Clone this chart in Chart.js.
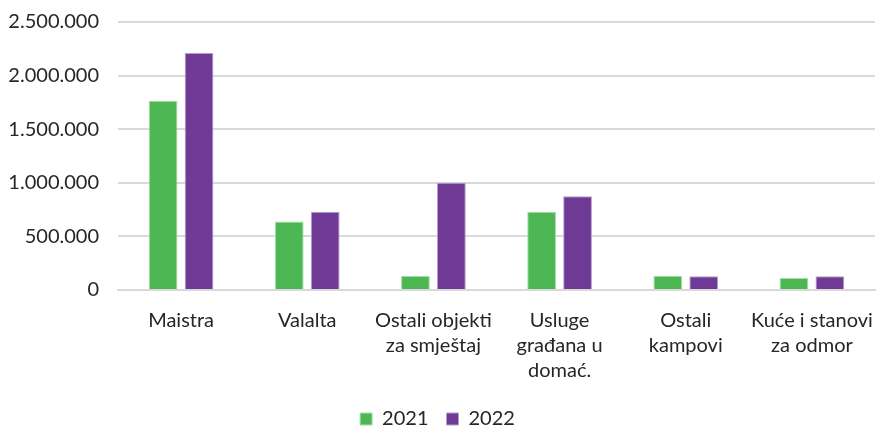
<!DOCTYPE html>
<html>
<head>
<meta charset="utf-8">
<script src="https://cdn.jsdelivr.net/npm/chart.js@4.4.0/dist/chart.umd.min.js"></script>
<style>
  html, body { margin: 0; padding: 0; background: #fff; }
  #wrap { width: 876px; height: 427px; position: relative; }
</style>
</head>
<body>
<div id="wrap"><canvas id="chart"></canvas></div>
<script>
// Kategorije i vrijednosti (očitano sa slike)
const categories = [
    ['Maistra'],
    ['Valalta'],
    ['Ostali objekti', 'za smještaj'],
    ['Usluge', 'građana u', 'domać.'],
    ['Ostali', 'kampovi'],
    ['Kuće i stanovi', 'za odmor']
];
const values2021 = [1765000, 638000, 131000, 731000, 134000, 112000];
const values2022 = [2210000, 731000, 1000000, 875000, 128000, 128000];
const seriesLabels = ['2021', '2022'];
const yTicks = [0, 500000, 1000000, 1500000, 2000000, 2500000];

const green = '#4db853';
const purple = '#6f3996';
const font = 'Lato, "Open Sans", sans-serif';

function formatDots(v) {
    return String(v).replace(/\B(?=(\d{3})+(?!\d))/g, '.');
}

const ctx = document.getElementById('chart').getContext('2d');
new Chart(ctx, {
    type: 'bar',
    data: {
        labels: categories,
        datasets: [
            {
                label: seriesLabels[0],
                data: values2021,
                backgroundColor: green,
                borderColor: '#a8dcab',
                borderWidth: 1,
                categoryPercentage: 0.57,
                barPercentage: 0.8
            },
            {
                label: seriesLabels[1],
                data: values2022,
                backgroundColor: purple,
                borderColor: '#b79ccb',
                borderWidth: 1,
                categoryPercentage: 0.57,
                barPercentage: 0.8
            }
        ]
    },
    options: {
        responsive: true,
        maintainAspectRatio: false,
        animation: false,
        layout: { padding: { top: 0, right: 1, left: 0, bottom: -12 } },
        scales: {
            x: {
                grid: { display: false, drawTicks: false },
                border: { display: true, color: '#d9d9d9', width: 2 },
                afterFit: function(axis) {
                    axis.height = 101;
                    axis.paddingLeft = 0;
                    axis.paddingRight = 0;
                },
                ticks: {
                    color: '#262626',
                    font: { family: font, size: 20, lineHeight: 1.25 },
                    padding: 18,
                    maxRotation: 0,
                    autoSkip: false
                }
            },
            y: {
                min: 0,
                max: 2500000,
                afterBuildTicks: function(axis) {
                    axis.ticks = yTicks.map(v => ({ value: v }));
                },
                afterFit: function(axis) {
                    axis.width = 118;
                    axis.paddingTop = 22;
                },
                grid: { color: '#d9d9d9', lineWidth: 2, drawTicks: false },
                border: { display: false },
                ticks: {
                    color: '#262626',
                    font: { family: font, size: 20 },
                    padding: 19,
                    callback: function(v) { return formatDots(v); }
                }
            }
        },
        plugins: {
            legend: {
                position: 'bottom',
                labels: {
                    color: '#262626',
                    font: { family: font, size: 20 },
                    boxWidth: 12,
                    boxHeight: 12,
                    padding: 18
                }
            },
            tooltip: { enabled: false }
        }
    }
});
</script>
</body>
</html>
